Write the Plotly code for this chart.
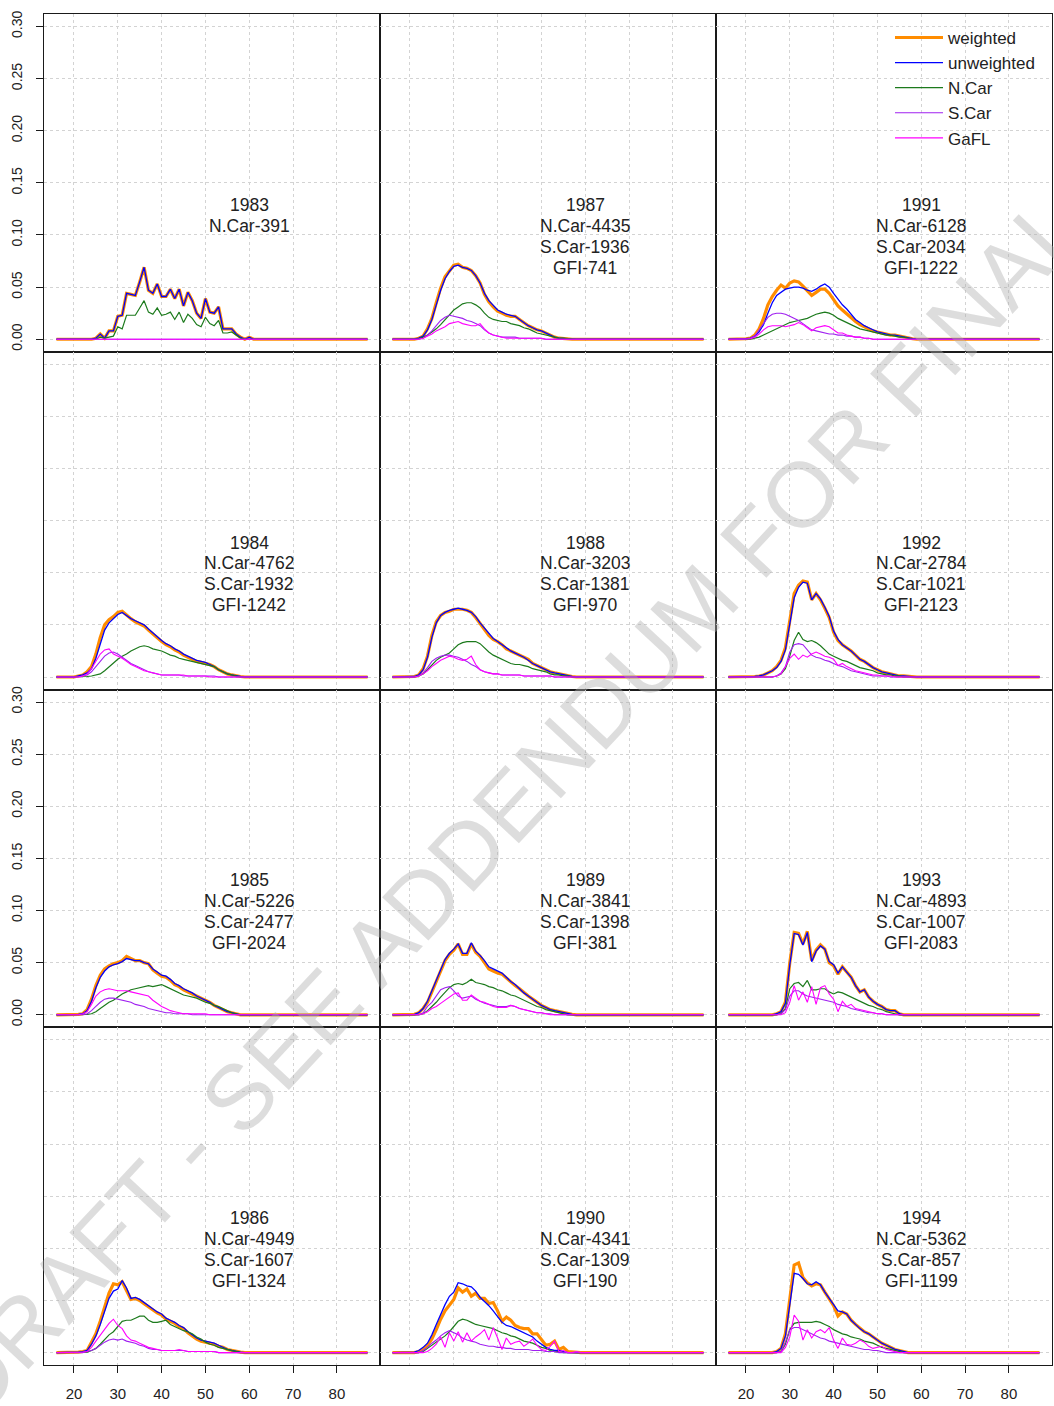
import plotly.graph_objects as go

# ---------------------------------------------------------------------------
# Age grid and helper to pad the age-frequency vectors (listed from age 20)
# ---------------------------------------------------------------------------
AGES = list(range(16, 88))
FIRST_AGE = 20


def series(values):
    lead = [0.0] * (FIRST_AGE - AGES[0])
    tail = [0.0] * (len(AGES) - len(lead) - len(values))
    return lead + list(values) + tail


YEARS = [1983, 1984, 1985, 1986, 1987, 1988, 1989, 1990, 1991, 1992, 1993, 1994]
N_CAR_N = [391, 4762, 5226, 4949, 4435, 3203, 3841, 4341, 6128, 2784, 4893, 5362]
S_CAR_N = [None, 1932, 2477, 1607, 1936, 1381, 1398, 1309, 2034, 1021, 1007, 857]
GFI_N = [None, 1242, 2024, 1324, 741, 970, 381, 190, 1222, 2123, 2083, 1199]

# ---------------------------------------------------------------------------
# Proportion at age, ages 20, 21, 22, ...
# ---------------------------------------------------------------------------
w83 = [0, 0, 0, 0, 0, 0.001, 0.005, 0.001, 0.008, 0.008, 0.022, 0.023, 0.044, 0.043, 0.042, 0.055, 0.069, 0.047, 0.044, 0.053, 0.041, 0.041, 0.048, 0.039, 0.048, 0.032, 0.045, 0.037, 0.025, 0.020, 0.039, 0.026, 0.025, 0.031, 0.010, 0.010, 0.010, 0.005, 0.002, 0, 0.002]
u83 = [0, 0, 0, 0, 0, 0.001, 0.005, 0.001, 0.008, 0.008, 0.022, 0.023, 0.044, 0.043, 0.042, 0.055, 0.069, 0.047, 0.044, 0.053, 0.041, 0.041, 0.048, 0.039, 0.048, 0.032, 0.045, 0.037, 0.025, 0.020, 0.039, 0.026, 0.025, 0.031, 0.010, 0.010, 0.010, 0.005, 0.002, 0, 0.002]
n83 = [0, 0, 0, 0, 0, 0, 0.002, 0.001, 0.002, 0.003, 0.012, 0.010, 0.023, 0.023, 0.023, 0.030, 0.037, 0.026, 0.024, 0.030, 0.023, 0.024, 0.026, 0.019, 0.026, 0.016, 0.024, 0.020, 0.014, 0.012, 0.021, 0.015, 0.013, 0.018, 0.006, 0.006, 0.007, 0.004, 0.001]
s83 = []
g83 = []

w84 = [0, 0.001, 0.002, 0.005, 0.010, 0.022, 0.038, 0.050, 0.055, 0.058, 0.062, 0.063, 0.059, 0.056, 0.053, 0.051, 0.049, 0.045, 0.041, 0.037, 0.034, 0.031, 0.029, 0.026, 0.024, 0.021, 0.019, 0.017, 0.015, 0.014, 0.013, 0.012, 0.010, 0.007, 0.005, 0.003, 0.002, 0.001, 0.0005]
u84 = [0, 0.001, 0.002, 0.004, 0.008, 0.018, 0.032, 0.045, 0.052, 0.056, 0.060, 0.062, 0.059, 0.056, 0.054, 0.052, 0.050, 0.046, 0.042, 0.038, 0.035, 0.032, 0.030, 0.027, 0.025, 0.022, 0.020, 0.018, 0.016, 0.015, 0.014, 0.012, 0.010, 0.007, 0.005, 0.003, 0.002, 0.001, 0.0005]
n84 = [0, 0, 0, 0.0005, 0.001, 0.002, 0.003, 0.006, 0.010, 0.014, 0.017, 0.020, 0.022, 0.025, 0.027, 0.029, 0.030, 0.029, 0.027, 0.026, 0.025, 0.023, 0.021, 0.020, 0.018, 0.017, 0.016, 0.015, 0.014, 0.013, 0.012, 0.011, 0.010, 0.007, 0.005, 0.003, 0.002, 0.001]
s84 = [0, 0, 0.001, 0.002, 0.005, 0.010, 0.016, 0.020, 0.023, 0.024, 0.022, 0.019, 0.016, 0.013, 0.011, 0.009, 0.007, 0.005, 0.004, 0.003, 0.002, 0.002, 0.002, 0.002, 0.002, 0.001, 0.001, 0.001, 0.001, 0.001, 0.001, 0.001, 0.001]
g84 = [0, 0, 0.001, 0.003, 0.008, 0.015, 0.022, 0.026, 0.027, 0.022, 0.020, 0.018, 0.015, 0.012, 0.010, 0.008, 0.006, 0.005, 0.004, 0.003, 0.002, 0.002, 0.002, 0.002, 0.002, 0.002, 0.001, 0.001, 0.001, 0.001, 0.001]

w85 = [0, 0.0005, 0.001, 0.005, 0.015, 0.028, 0.038, 0.044, 0.047, 0.049, 0.050, 0.052, 0.056, 0.054, 0.052, 0.052, 0.050, 0.049, 0.043, 0.040, 0.037, 0.036, 0.033, 0.029, 0.027, 0.024, 0.022, 0.020, 0.018, 0.016, 0.014, 0.012, 0.009, 0.007, 0.005, 0.003, 0.002, 0.001]
u85 = [0, 0.0005, 0.001, 0.004, 0.013, 0.026, 0.036, 0.042, 0.046, 0.048, 0.049, 0.051, 0.054, 0.053, 0.052, 0.052, 0.050, 0.049, 0.044, 0.041, 0.038, 0.037, 0.034, 0.030, 0.028, 0.025, 0.023, 0.021, 0.018, 0.016, 0.014, 0.012, 0.009, 0.007, 0.005, 0.003, 0.002, 0.001]
n85 = [0, 0, 0, 0.0005, 0.001, 0.003, 0.006, 0.009, 0.012, 0.014, 0.017, 0.020, 0.022, 0.024, 0.025, 0.026, 0.027, 0.028, 0.027, 0.028, 0.029, 0.027, 0.025, 0.023, 0.021, 0.019, 0.018, 0.017, 0.016, 0.014, 0.012, 0.011, 0.009, 0.008, 0.006, 0.004, 0.002, 0.001]
s85 = [0, 0, 0, 0.001, 0.004, 0.008, 0.012, 0.015, 0.016, 0.016, 0.015, 0.014, 0.013, 0.012, 0.010, 0.009, 0.008, 0.006, 0.005, 0.004, 0.003, 0.002, 0.002, 0.001, 0.001, 0.001, 0.001]
g85 = [0, 0, 0.001, 0.003, 0.010, 0.018, 0.022, 0.024, 0.025, 0.024, 0.023, 0.023, 0.023, 0.022, 0.021, 0.020, 0.019, 0.018, 0.014, 0.011, 0.008, 0.006, 0.004, 0.003, 0.002, 0.001, 0.001, 0.001, 0.001, 0.001, 0.001]

w86 = [0, 0.0005, 0.001, 0.002, 0.010, 0.018, 0.030, 0.043, 0.057, 0.066, 0.065, 0.068, 0.060, 0.051, 0.052, 0.050, 0.047, 0.044, 0.041, 0.038, 0.036, 0.032, 0.030, 0.028, 0.025, 0.023, 0.019, 0.016, 0.013, 0.011, 0.010, 0.009, 0.008, 0.006, 0.005, 0.003, 0.002, 0.001, 0.0005]
u86 = [0, 0.0005, 0.001, 0.002, 0.008, 0.016, 0.027, 0.040, 0.052, 0.059, 0.061, 0.069, 0.062, 0.052, 0.053, 0.051, 0.048, 0.045, 0.042, 0.039, 0.037, 0.033, 0.031, 0.029, 0.026, 0.024, 0.020, 0.017, 0.014, 0.012, 0.011, 0.010, 0.009, 0.007, 0.005, 0.003, 0.002, 0.001, 0.0005]
n86 = [0, 0, 0, 0.0005, 0.002, 0.004, 0.008, 0.013, 0.017, 0.020, 0.025, 0.030, 0.031, 0.031, 0.033, 0.035, 0.035, 0.031, 0.029, 0.029, 0.030, 0.031, 0.027, 0.025, 0.023, 0.021, 0.020, 0.018, 0.015, 0.013, 0.010, 0.008, 0.007, 0.005, 0.004, 0.003, 0.002, 0.001]
s86 = [0, 0, 0, 0.001, 0.002, 0.004, 0.007, 0.010, 0.012, 0.013, 0.012, 0.013, 0.011, 0.010, 0.009, 0.007, 0.006, 0.004, 0.003, 0.003, 0.002, 0.002, 0.002, 0.002, 0.002, 0.002, 0.001, 0.001, 0.001, 0.001, 0.001, 0.001, 0.001]
g86 = [0, 0, 0.0005, 0.001, 0.005, 0.011, 0.017, 0.023, 0.028, 0.032, 0.026, 0.023, 0.016, 0.012, 0.011, 0.009, 0.007, 0.005, 0.004, 0.003, 0.002, 0.002, 0.002, 0.002, 0.003, 0.002, 0.001, 0.001, 0.001, 0.001, 0.001, 0.001, 0.001]

w87 = [0, 0, 0.001, 0.003, 0.010, 0.020, 0.035, 0.049, 0.060, 0.066, 0.071, 0.072, 0.069, 0.068, 0.066, 0.061, 0.054, 0.043, 0.036, 0.031, 0.027, 0.025, 0.023, 0.022, 0.022, 0.019, 0.016, 0.013, 0.011, 0.009, 0.008, 0.006, 0.004, 0.002, 0.001, 0.0005]
u87 = [0, 0, 0.001, 0.003, 0.009, 0.019, 0.033, 0.047, 0.058, 0.065, 0.070, 0.071, 0.069, 0.068, 0.066, 0.061, 0.054, 0.044, 0.037, 0.032, 0.028, 0.026, 0.024, 0.023, 0.022, 0.019, 0.016, 0.013, 0.011, 0.009, 0.008, 0.006, 0.004, 0.002, 0.001, 0.0005]
n87 = [0, 0, 0.0005, 0.002, 0.004, 0.007, 0.010, 0.014, 0.019, 0.024, 0.028, 0.031, 0.034, 0.035, 0.035, 0.033, 0.030, 0.025, 0.021, 0.019, 0.018, 0.017, 0.017, 0.015, 0.014, 0.013, 0.011, 0.010, 0.008, 0.006, 0.005, 0.004, 0.003, 0.002, 0.001, 0.001, 0.0005]
s87 = [0, 0, 0, 0.001, 0.004, 0.008, 0.013, 0.018, 0.021, 0.023, 0.022, 0.021, 0.020, 0.018, 0.017, 0.015, 0.013, 0.009, 0.006, 0.004, 0.003, 0.002, 0.002, 0.002, 0.002, 0.001, 0.001, 0.001, 0.001, 0.001, 0.001]
g87 = [0, 0, 0, 0.001, 0.003, 0.005, 0.008, 0.010, 0.012, 0.015, 0.016, 0.017, 0.015, 0.014, 0.013, 0.013, 0.015, 0.010, 0.006, 0.004, 0.003, 0.002, 0.001, 0.001, 0.001, 0.001, 0.001, 0.001, 0.001, 0.001, 0.001]

w88 = [0, 0.0005, 0.002, 0.008, 0.020, 0.040, 0.053, 0.059, 0.062, 0.063, 0.065, 0.065, 0.065, 0.064, 0.062, 0.057, 0.051, 0.046, 0.040, 0.036, 0.034, 0.031, 0.027, 0.025, 0.023, 0.021, 0.019, 0.017, 0.013, 0.011, 0.009, 0.007, 0.005, 0.004, 0.003, 0.002, 0.001, 0.0005]
u88 = [0, 0.0005, 0.002, 0.007, 0.019, 0.038, 0.052, 0.059, 0.062, 0.064, 0.065, 0.066, 0.065, 0.064, 0.062, 0.058, 0.052, 0.047, 0.041, 0.037, 0.034, 0.031, 0.028, 0.025, 0.023, 0.021, 0.019, 0.016, 0.013, 0.011, 0.009, 0.007, 0.005, 0.004, 0.003, 0.002, 0.001, 0.0005]
n88 = [0, 0, 0.001, 0.003, 0.007, 0.012, 0.016, 0.019, 0.021, 0.023, 0.027, 0.031, 0.033, 0.034, 0.034, 0.034, 0.032, 0.028, 0.024, 0.021, 0.019, 0.017, 0.015, 0.013, 0.012, 0.012, 0.011, 0.010, 0.008, 0.007, 0.006, 0.005, 0.003, 0.002, 0.002, 0.001, 0.001]
s88 = [0, 0, 0.001, 0.004, 0.009, 0.015, 0.018, 0.020, 0.021, 0.021, 0.020, 0.019, 0.017, 0.015, 0.012, 0.010, 0.007, 0.005, 0.004, 0.003, 0.003, 0.002, 0.002, 0.002, 0.002, 0.002, 0.001, 0.001, 0.001, 0.001, 0.001, 0.001, 0.001]
g88 = [0, 0, 0.001, 0.003, 0.006, 0.010, 0.013, 0.016, 0.018, 0.020, 0.019, 0.017, 0.016, 0.017, 0.020, 0.012, 0.007, 0.005, 0.004, 0.003, 0.003, 0.002, 0.002, 0.002, 0.002, 0.002, 0.001, 0.001, 0.001, 0.001, 0.001, 0.001, 0.001]

w89 = [0, 0.0005, 0.002, 0.006, 0.012, 0.022, 0.033, 0.043, 0.052, 0.058, 0.062, 0.068, 0.058, 0.058, 0.068, 0.060, 0.056, 0.050, 0.044, 0.042, 0.040, 0.039, 0.035, 0.031, 0.028, 0.025, 0.021, 0.018, 0.015, 0.012, 0.009, 0.007, 0.005, 0.004, 0.003, 0.002, 0.001, 0.0005]
u89 = [0, 0.0005, 0.002, 0.006, 0.013, 0.023, 0.034, 0.044, 0.053, 0.059, 0.063, 0.068, 0.059, 0.059, 0.069, 0.061, 0.057, 0.052, 0.046, 0.044, 0.042, 0.040, 0.036, 0.032, 0.029, 0.025, 0.021, 0.018, 0.015, 0.012, 0.009, 0.007, 0.005, 0.004, 0.003, 0.002, 0.001, 0.0005]
n89 = [0, 0, 0, 0.001, 0.004, 0.008, 0.012, 0.017, 0.022, 0.026, 0.029, 0.030, 0.029, 0.031, 0.034, 0.031, 0.030, 0.029, 0.027, 0.026, 0.024, 0.023, 0.021, 0.019, 0.018, 0.016, 0.014, 0.012, 0.010, 0.008, 0.007, 0.005, 0.004, 0.003, 0.002, 0.001]
s89 = [0, 0, 0, 0.002, 0.008, 0.012, 0.018, 0.024, 0.026, 0.027, 0.023, 0.018, 0.016, 0.017, 0.018, 0.015, 0.013, 0.011, 0.010, 0.009, 0.008, 0.008, 0.008, 0.009, 0.008, 0.006, 0.005, 0.004, 0.003, 0.002, 0.002, 0.001, 0.001]
g89 = [0, 0, 0, 0.001, 0.003, 0.006, 0.008, 0.011, 0.014, 0.017, 0.020, 0.021, 0.014, 0.014, 0.019, 0.016, 0.013, 0.012, 0.010, 0.008, 0.007, 0.007, 0.007, 0.009, 0.008, 0.006, 0.005, 0.004, 0.003, 0.002, 0.002, 0.001]

w90 = [0, 0, 0.001, 0.003, 0.007, 0.013, 0.022, 0.032, 0.040, 0.046, 0.051, 0.062, 0.058, 0.061, 0.054, 0.057, 0.052, 0.052, 0.047, 0.048, 0.040, 0.030, 0.034, 0.031, 0.026, 0.024, 0.023, 0.023, 0.018, 0.018, 0.012, 0.007, 0.008, 0.011, 0.003, 0.005, 0.001, 0.0005]
u90 = [0, 0.0005, 0.002, 0.005, 0.009, 0.017, 0.027, 0.037, 0.046, 0.054, 0.058, 0.067, 0.066, 0.064, 0.063, 0.059, 0.053, 0.049, 0.045, 0.040, 0.034, 0.029, 0.026, 0.025, 0.023, 0.021, 0.019, 0.017, 0.015, 0.011, 0.008, 0.005, 0.003, 0.002, 0.002, 0.001]
n90 = [0, 0, 0, 0.001, 0.004, 0.007, 0.010, 0.013, 0.016, 0.020, 0.025, 0.030, 0.032, 0.031, 0.029, 0.027, 0.026, 0.025, 0.024, 0.023, 0.021, 0.019, 0.018, 0.016, 0.015, 0.013, 0.011, 0.010, 0.009, 0.007, 0.005, 0.004, 0.002, 0.001, 0.001]
s90 = [0, 0, 0, 0.002, 0.005, 0.009, 0.012, 0.016, 0.019, 0.021, 0.019, 0.017, 0.014, 0.012, 0.011, 0.010, 0.008, 0.007, 0.006, 0.006, 0.005, 0.005, 0.004, 0.004, 0.003, 0.003, 0.003, 0.003, 0.002, 0.002, 0.002, 0.001, 0.001, 0.001]
g90 = [0, 0, 0, 0, 0.001, 0.004, 0.008, 0.015, 0.005, 0.019, 0.011, 0.020, 0.010, 0.019, 0.011, 0.015, 0.018, 0.022, 0.012, 0.024, 0.014, 0.003, 0.014, 0.008, 0.010, 0.011, 0.006, 0.009, 0.013, 0.007, 0.003, 0.002, 0.006, 0.011, 0.001, 0.002, 0, 0, 0.001]

w91 = [0.0005, 0.001, 0.004, 0.010, 0.020, 0.033, 0.041, 0.047, 0.052, 0.049, 0.054, 0.056, 0.055, 0.051, 0.046, 0.042, 0.045, 0.048, 0.048, 0.044, 0.038, 0.032, 0.028, 0.024, 0.020, 0.017, 0.014, 0.012, 0.010, 0.008, 0.007, 0.006, 0.005, 0.004, 0.004, 0.003, 0.002, 0.001, 0.0005]
u91 = [0.0005, 0.001, 0.003, 0.007, 0.014, 0.025, 0.035, 0.042, 0.045, 0.048, 0.049, 0.050, 0.050, 0.049, 0.047, 0.046, 0.048, 0.051, 0.053, 0.050, 0.044, 0.038, 0.033, 0.029, 0.024, 0.019, 0.016, 0.013, 0.011, 0.009, 0.007, 0.006, 0.005, 0.004, 0.004, 0.003, 0.002, 0.001, 0.0005]
n91 = [0, 0, 0.001, 0.002, 0.004, 0.006, 0.008, 0.010, 0.012, 0.014, 0.016, 0.017, 0.018, 0.019, 0.020, 0.022, 0.024, 0.025, 0.026, 0.025, 0.023, 0.020, 0.018, 0.016, 0.014, 0.012, 0.010, 0.009, 0.008, 0.007, 0.006, 0.005, 0.004, 0.004, 0.003, 0.002, 0.002, 0.001]
s91 = [0, 0.001, 0.003, 0.009, 0.015, 0.021, 0.024, 0.025, 0.025, 0.024, 0.022, 0.020, 0.018, 0.015, 0.012, 0.009, 0.008, 0.007, 0.006, 0.005, 0.005, 0.004, 0.004, 0.003, 0.003, 0.002, 0.002, 0.001, 0.001]
g91 = [0, 0.0005, 0.002, 0.005, 0.009, 0.012, 0.013, 0.013, 0.013, 0.012, 0.013, 0.014, 0.016, 0.014, 0.011, 0.008, 0.011, 0.012, 0.013, 0.012, 0.009, 0.006, 0.006, 0.004, 0.003, 0.002, 0.002, 0.001, 0.001]

w92 = [0, 0, 0.0005, 0.001, 0.002, 0.004, 0.006, 0.010, 0.016, 0.028, 0.055, 0.080, 0.088, 0.092, 0.091, 0.074, 0.080, 0.074, 0.066, 0.057, 0.043, 0.035, 0.031, 0.028, 0.025, 0.021, 0.017, 0.015, 0.012, 0.009, 0.007, 0.005, 0.004, 0.003, 0.002, 0.001, 0.001, 0.0005]
u92 = [0, 0, 0.0005, 0.001, 0.002, 0.004, 0.006, 0.009, 0.015, 0.026, 0.052, 0.076, 0.086, 0.091, 0.090, 0.074, 0.080, 0.075, 0.067, 0.058, 0.044, 0.036, 0.031, 0.028, 0.025, 0.021, 0.017, 0.015, 0.012, 0.009, 0.007, 0.005, 0.004, 0.003, 0.002, 0.001, 0.001, 0.0005]
n92 = [0, 0, 0, 0, 0, 0, 0, 0.001, 0.003, 0.008, 0.020, 0.035, 0.043, 0.036, 0.034, 0.035, 0.033, 0.030, 0.026, 0.022, 0.020, 0.018, 0.016, 0.015, 0.013, 0.011, 0.009, 0.008, 0.007, 0.006, 0.004, 0.003, 0.002, 0.002, 0.001, 0.001]
s92 = [0, 0, 0, 0, 0, 0, 0, 0.001, 0.004, 0.010, 0.024, 0.031, 0.032, 0.031, 0.026, 0.021, 0.019, 0.018, 0.016, 0.015, 0.013, 0.011, 0.010, 0.008, 0.006, 0.005, 0.004, 0.003, 0.002, 0.001, 0.001, 0.001, 0.001]
g92 = [0, 0, 0, 0, 0, 0, 0, 0.001, 0.003, 0.010, 0.018, 0.022, 0.017, 0.021, 0.019, 0.022, 0.024, 0.022, 0.020, 0.019, 0.017, 0.011, 0.013, 0.010, 0.008, 0.006, 0.005, 0.004, 0.003, 0.002, 0.002, 0.001, 0.001, 0.001]

w93 = [0, 0, 0, 0, 0, 0, 0, 0.001, 0.003, 0.012, 0.050, 0.079, 0.078, 0.068, 0.080, 0.052, 0.062, 0.067, 0.063, 0.050, 0.047, 0.039, 0.046, 0.041, 0.036, 0.028, 0.022, 0.024, 0.017, 0.013, 0.010, 0.008, 0.005, 0.004, 0.004, 0.001]
u93 = [0, 0, 0, 0, 0, 0, 0, 0.001, 0.003, 0.011, 0.048, 0.078, 0.077, 0.067, 0.079, 0.051, 0.061, 0.066, 0.063, 0.051, 0.048, 0.040, 0.046, 0.041, 0.036, 0.028, 0.022, 0.024, 0.017, 0.013, 0.010, 0.008, 0.005, 0.004, 0.004, 0.001]
n93 = [0, 0, 0, 0, 0, 0, 0, 0, 0.001, 0.006, 0.025, 0.030, 0.031, 0.027, 0.033, 0.024, 0.024, 0.025, 0.025, 0.022, 0.020, 0.022, 0.021, 0.019, 0.017, 0.015, 0.013, 0.011, 0.009, 0.008, 0.006, 0.005, 0.003, 0.002, 0.001]
s93 = [0, 0, 0, 0, 0, 0, 0, 0, 0.001, 0.005, 0.018, 0.023, 0.023, 0.020, 0.018, 0.017, 0.016, 0.015, 0.014, 0.013, 0.012, 0.010, 0.009, 0.008, 0.006, 0.005, 0.004, 0.003, 0.002, 0.002, 0.001, 0.001]
g93 = [0, 0, 0, 0, 0, 0, 0, 0, 0, 0.002, 0.012, 0.028, 0.014, 0.022, 0.012, 0.027, 0.010, 0.026, 0.028, 0.020, 0.015, 0.003, 0.013, 0.008, 0.010, 0.006, 0.005, 0.004, 0.003, 0.002, 0.001, 0.001]

w94 = [0, 0, 0, 0, 0, 0, 0, 0.001, 0.004, 0.018, 0.050, 0.084, 0.086, 0.072, 0.067, 0.064, 0.066, 0.065, 0.058, 0.052, 0.045, 0.035, 0.039, 0.037, 0.031, 0.027, 0.023, 0.020, 0.018, 0.015, 0.012, 0.009, 0.007, 0.005, 0.003, 0.002, 0.001]
u94 = [0, 0, 0, 0, 0, 0, 0, 0.001, 0.004, 0.016, 0.045, 0.076, 0.075, 0.071, 0.066, 0.065, 0.068, 0.065, 0.058, 0.052, 0.046, 0.040, 0.039, 0.037, 0.031, 0.027, 0.023, 0.020, 0.018, 0.015, 0.012, 0.009, 0.007, 0.005, 0.003, 0.002, 0.001]
n94 = [0, 0, 0, 0, 0, 0, 0, 0, 0.001, 0.008, 0.022, 0.028, 0.029, 0.029, 0.029, 0.029, 0.030, 0.029, 0.027, 0.025, 0.022, 0.020, 0.018, 0.017, 0.015, 0.014, 0.013, 0.011, 0.010, 0.009, 0.007, 0.005, 0.004, 0.003, 0.002, 0.001]
s94 = [0, 0, 0, 0, 0, 0, 0, 0, 0.001, 0.010, 0.022, 0.024, 0.024, 0.022, 0.020, 0.018, 0.016, 0.014, 0.013, 0.011, 0.010, 0.009, 0.008, 0.007, 0.006, 0.005, 0.004, 0.003, 0.003, 0.002, 0.002, 0.001]
g94 = [0, 0, 0, 0, 0, 0, 0, 0, 0, 0.005, 0.015, 0.036, 0.030, 0.012, 0.022, 0.014, 0.020, 0.022, 0.019, 0.024, 0.012, 0.004, 0.014, 0.008, 0.007, 0.009, 0.012, 0.010, 0.006, 0.004, 0.005, 0.006, 0.003, 0.002, 0.001]

WEIGHTED = [w83, w84, w85, w86, w87, w88, w89, w90, w91, w92, w93, w94]
UNWEIGHTED = [u83, u84, u85, u86, u87, u88, u89, u90, u91, u92, u93, u94]
N_CAR = [n83, n84, n85, n86, n87, n88, n89, n90, n91, n92, n93, n94]
S_CAR = [s83, s84, s85, s86, s87, s88, s89, s90, s91, s92, s93, s94]
GAFL = [g83, g84, g85, g86, g87, g88, g89, g90, g91, g92, g93, g94]

X_TICKS = [20, 30, 40, 50, 60, 70, 80]
Y_TICKS = [0.0, 0.05, 0.10, 0.15, 0.20, 0.25, 0.30]
Y_TICKTEXT = ["0.00", "0.05", "0.10", "0.15", "0.20", "0.25", "0.30"]

SERIES = [
    ("weighted", WEIGHTED, "#FF8C00", 3.2),
    ("unweighted", UNWEIGHTED, "#0000FF", 1.3),
    ("N.Car", N_CAR, "#1C7A1C", 1.2),
    ("S.Car", S_CAR, "#A020F0", 1.1),
    ("GaFL", GAFL, "#FF00FF", 1.1),
]

# ---------------------------------------------------------------------------
# Page geometry (pixels) for the 4 x 3 panel grid, filled column by column
# ---------------------------------------------------------------------------
W, H = 1054, 1406
COL_EDGES = [44, 380, 716, 1052]
ROW_EDGES = [11, 349.5, 688, 1026.5, 1365]
X_RANGE = [13.16, 89.84]
Y_RANGE = [-0.012, 0.312]
FONT = "Liberation Sans, Arial, sans-serif"
TEXT_COLOR = "#222222"

fig = go.Figure()
layout = dict(
    width=W, height=H,
    margin=dict(l=0, r=0, t=0, b=0),
    paper_bgcolor="white", plot_bgcolor="white",
    font=dict(family=FONT, color=TEXT_COLOR),
    showlegend=True,
    legend=dict(
        x=890 / W, y=1 - 17 / H, xanchor="left", yanchor="top",
        bgcolor="rgba(0,0,0,0)", borderwidth=0,
        font=dict(size=17, family=FONT, color=TEXT_COLOR),
        tracegroupgap=0, itemwidth=48,
    ),
)

annotations = []
for i, year in enumerate(YEARS):
    col, row = i // 4, i % 4
    n = i + 1
    xa, ya = ("xaxis" if n == 1 else f"xaxis{n}"), ("yaxis" if n == 1 else f"yaxis{n}")
    xref, yref = ("x" if n == 1 else f"x{n}"), ("y" if n == 1 else f"y{n}")

    x_labels = row == 3 and col in (0, 2)
    y_labels = col == 0 and row in (0, 2)

    layout[xa] = dict(
        domain=[COL_EDGES[col] / W, COL_EDGES[col + 1] / W],
        anchor=yref, range=X_RANGE,
        tickmode="array", tickvals=X_TICKS,
        showgrid=True, gridcolor="#D3D3D3", griddash="dot", gridwidth=1,
        zeroline=False, showline=True, mirror=True,
        linecolor="#1A1A1A", linewidth=1.2,
        ticks="outside" if x_labels else "", ticklen=7, tickcolor="#1A1A1A",
        showticklabels=x_labels, ticklabelstandoff=8,
        tickfont=dict(size=15, family=FONT, color=TEXT_COLOR),
    )
    layout[ya] = dict(
        domain=[1 - ROW_EDGES[row + 1] / H, 1 - ROW_EDGES[row] / H],
        anchor=xref, range=Y_RANGE,
        tickmode="array", tickvals=Y_TICKS, ticktext=Y_TICKTEXT,
        showgrid=True, gridcolor="#D3D3D3", griddash="dot", gridwidth=1,
        zeroline=False, showline=True, mirror=True,
        linecolor="#1A1A1A", linewidth=1.2,
        ticks="outside" if y_labels else "", ticklen=7, tickcolor="#1A1A1A",
        showticklabels=y_labels, tickangle=-90, ticklabelstandoff=8,
        tickfont=dict(size=14, family=FONT, color=TEXT_COLOR),
    )

    for name, table, color, width in SERIES:
        fig.add_trace(go.Scatter(
            x=AGES, y=series(table[i]), mode="lines", name=name,
            line=dict(color=color, width=width),
            xaxis=xref, yaxis=yref,
            showlegend=(i == 0), legendgroup=name, hoverinfo="skip",
        ))

    # panel caption: year and sample sizes by source
    lines = [str(year), f"N.Car-{N_CAR_N[i]}"]
    if S_CAR_N[i] is not None:
        lines.append(f"S.Car-{S_CAR_N[i]}")
    if GFI_N[i] is not None:
        lines.append(f"GFI-{GFI_N[i]}")
    for k, txt in enumerate(lines):
        annotations.append(dict(
            x=60, y=0.129 - 0.0201 * k, xref=xref, yref=yref,
            text=txt, showarrow=False, xanchor="center", yanchor="middle",
            font=dict(size=17.5, family=FONT, color=TEXT_COLOR),
        ))

# diagonal draft stamp across the page
annotations.append(dict(
    x=510 / W, y=1 - 805 / H, xref="paper", yref="paper",
    text="DRAFT - SEE ADDENDUM FOR FINAL", showarrow=False,
    textangle=-47, xanchor="center", yanchor="middle",
    font=dict(size=92, family=FONT, color="rgba(175,175,175,0.42)"),
))

layout["annotations"] = annotations
fig.update_layout(**layout)
fig.write_html("out.html")
